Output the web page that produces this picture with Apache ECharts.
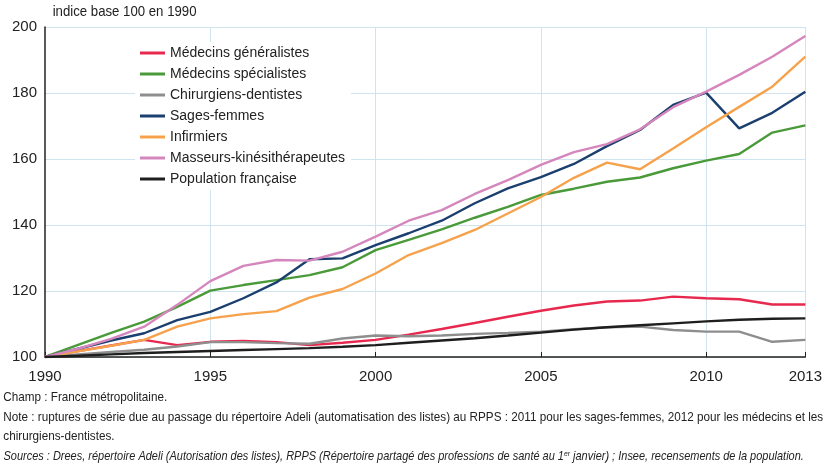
<!DOCTYPE html>
<html><head><meta charset="utf-8">
<script src="https://cdn.jsdelivr.net/npm/echarts@6/dist/echarts.min.js"></script>
<style>
html,body{margin:0;padding:0;background:#fff;}
#c{width:825px;height:467px;}
</style></head><body><div id="c"></div>
<script>
const years = ['1990','1991','1992','1993','1994','1995','1996','1997','1998','1999','2000','2001','2002','2003','2004','2005','2006','2007','2008','2009','2010','2011','2012','2013'];
const generalistes = [100,101.8,103.5,105.2,103.6,104.6,104.9,104.5,103.6,104.3,105.2,106.8,108.5,110.3,112.2,114,115.6,116.8,117.1,118.3,117.8,117.5,115.9,115.9];
const specialistes = [100,103.7,107.3,110.7,115.2,120.1,121.8,123.3,124.8,127.2,132.4,135.5,138.7,142.2,145.5,149.1,151,153.1,154.4,157.2,159.5,161.5,168,170.2];
const dentistes = [100,100.8,101.5,102.2,103.2,104.5,104.5,104.2,104,105.6,106.5,106.3,106.5,107,107.3,107.7,108.4,109,109.2,108.2,107.7,107.7,104.6,105.2];
const sagesFemmes = [100,102.5,105,107.2,111.2,113.7,117.8,122.6,129.6,129.9,133.9,137.5,141.3,146.6,151.1,154.5,158.5,163.9,168.8,176.4,180.1,169.3,174,180.4];
const infirmiers = [100,101.7,103.4,105.2,109.2,111.7,113,113.9,118,120.6,125.3,130.9,134.5,138.5,143.5,148.5,154.3,158.9,156.9,163.2,169.6,175.8,181.9,191];
const masseurs = [100,102.5,105.5,109.2,115.8,123,127.6,129.4,129.2,131.9,136.5,141.3,144.5,149.4,153.6,158.2,162.1,164.5,169,175.7,180.4,185.5,191,197.3];
const population = [100,100.4,100.8,101.2,101.5,101.8,102.1,102.4,102.7,103.1,103.6,104.3,105,105.7,106.5,107.4,108.3,109,109.6,110.2,110.8,111.3,111.6,111.7];
const yTicks = [100,120,140,160,180,200];

const names = ['Médecins généralistes','Médecins spécialistes','Chirurgiens-dentistes','Sages-femmes','Infirmiers','Masseurs-kinésithérapeutes','Population française'];
const datas = [generalistes,specialistes,dentistes,sagesFemmes,infirmiers,masseurs,population];
const colors = ['#e8294f','#4a9a3a','#8e8e8e','#1b3f6e','#f6a24c','#d486bd','#1e1e1e'];

const FONT = '"Liberation Sans",Arial,sans-serif';
const showIdx = (i) => i % 5 === 0 || i === years.length - 1;

function note(y, text, sx){
  return {type:'text',x:3,y:y,scaleX:sx,scaleY:1,originX:3,originY:y,
    style:{text:text,font:'13px '+FONT,fill:'#222'}};
}

const chart = echarts.init(document.getElementById('c'), null, {renderer:'canvas'});
chart.setOption({
  animation:false,
  backgroundColor:'#fff',
  grid:{left:45,right:17,top:27,bottom:110,containLabel:false},
  graphic:[
    {type:'text',x:47,y:4,scaleX:0.88,originX:47,originY:4,style:{text:'indice base 100 en 1990',font:'15px '+FONT,fill:'#222'}},
    note(391,'Champ : France métropolitaine.',0.9),
    note(411,'Note : ruptures de série due au passage du répertoire Adeli (automatisation des listes) au RPPS : 2011 pour les sages-femmes, 2012 pour les médecins et les',0.9),
    note(430,'chirurgiens-dentistes.',0.9),
    {type:'text',x:3,y:450,scaleX:0.845,originX:3,originY:450,
      style:{text:'Sources : Drees, répertoire Adeli (Autorisation des listes), RPPS (Répertoire partagé des professions de santé au 1{sup|er} janvier) ; Insee, recensements de la population.',
        font:'italic 13px '+FONT,fill:'#222',
        rich:{sup:{fontSize:8,fontStyle:'italic',fontFamily:FONT,verticalAlign:'top',padding:[0,0,5,0],fill:'#222'}}}}
  ],
  legend:{
    orient:'vertical',left:135,top:42,
    backgroundColor:'#fff',padding:[4,6,4,5],
    itemWidth:25,itemHeight:3,itemGap:7,icon:'rect',
    textStyle:{fontFamily:FONT,fontSize:14,color:'#222'},
    data:names
  },
  xAxis:{
    type:'category',data:years,boundaryGap:false,
    axisLine:{lineStyle:{color:'#222',width:1.5}},
    axisTick:{show:true,inside:true,interval:(i)=>showIdx(i),length:5,lineStyle:{color:'#222'}},
    axisLabel:{interval:(i)=>showIdx(i),fontFamily:FONT,fontSize:15,color:'#222',margin:12},
    splitLine:{show:true,interval:(i)=>showIdx(i) && i!==0,lineStyle:{color:'#cfe4ee',width:1}}
  },
  yAxis:{
    type:'value',min:yTicks[0],max:yTicks[yTicks.length-1],interval:20,
    axisLine:{show:true,lineStyle:{color:'#222',width:1.5}},
    axisTick:{show:false},
    axisLabel:{fontFamily:FONT,fontSize:15,color:'#222',margin:8},
    splitLine:{show:true,lineStyle:{color:'#cfe4ee',width:1}}
  },
  series:datas.map((d,i)=>({
    name:names[i],type:'line',data:d,symbol:'none',
    lineStyle:{color:colors[i],width:2.4},itemStyle:{color:colors[i]},
    z:2+i
  }))
});
</script></body></html>
